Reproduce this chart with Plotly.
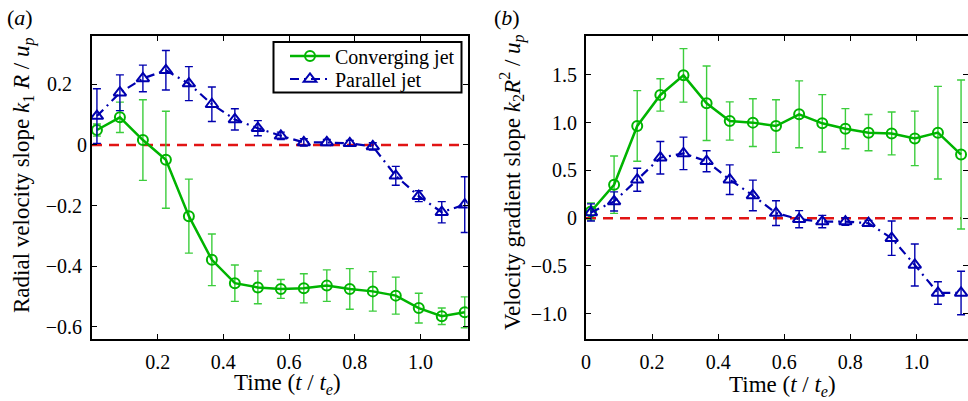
import plotly.graph_objects as go

# ---------------- data ----------------
time = [0.015, 0.085, 0.155, 0.225, 0.295, 0.365, 0.435, 0.505, 0.575,
        0.645, 0.715, 0.785, 0.855, 0.925, 0.995, 1.065, 1.135]

conv_k1 = [0.049, 0.091, 0.016, -0.049, -0.235, -0.379, -0.456, -0.470, -0.475,
           -0.473, -0.464, -0.475, -0.483, -0.497, -0.538, -0.565, -0.552]
conv_k1_err = [0.02, 0.05, 0.133, 0.16, 0.122, 0.085, 0.06, 0.054, 0.031,
               0.048, 0.052, 0.067, 0.065, 0.061, 0.049, 0.027, 0.051]
par_k1 = [0.095, 0.172, 0.219, 0.246, 0.202, 0.134, 0.084, 0.055, 0.030,
          0.008, 0.008, 0.005, -0.005, -0.102, -0.169, -0.222, -0.197]
par_k1_err = [0.09, 0.059, 0.044, 0.065, 0.056, 0.057, 0.035, 0.025, 0.012,
              0.012, 0.01, 0.01, 0.012, 0.031, 0.018, 0.035, 0.092]

conv_k2 = [0.07, 0.35, 0.965, 1.29, 1.495, 1.203, 1.017, 1.0, 0.964,
           1.087, 0.993, 0.937, 0.895, 0.887, 0.835, 0.895, 0.666]
conv_k2_err = [0.09, 0.3, 0.37, 0.17, 0.28, 0.39, 0.2, 0.25, 0.275,
               0.35, 0.3, 0.21, 0.19, 0.225, 0.285, 0.485, 0.78]
par_k2 = [0.06, 0.175, 0.402, 0.633, 0.678, 0.596, 0.403, 0.238, 0.053,
          -0.011, -0.036, -0.036, -0.053, -0.21, -0.49, -0.783, -0.783]
par_k2_err = [0.09, 0.1, 0.12, 0.17, 0.17, 0.11, 0.155, 0.16, 0.13,
              0.09, 0.065, 0.04, 0.03, 0.18, 0.22, 0.118, 0.228]

series_names = ["Converging jet", "Parallel jet"]

xticks_a = [0.2, 0.4, 0.6, 0.8, 1.0]
xticks_a_text = ["0.2", "0.4", "0.6", "0.8", "1.0"]
yticks_a = [-0.6, -0.4, -0.2, 0, 0.2]
yticks_a_text = ["\u22120.6\u2005", "\u22120.4\u2005", "\u22120.2\u2005", "0", "0.2\u2002\u2005"]
xticks_b = [0, 0.2, 0.4, 0.6, 0.8, 1.0]
xticks_b_text = ["0", "0.2", "0.4", "0.6", "0.8", "1.0"]
yticks_b = [-1.0, -0.5, 0, 0.5, 1.0, 1.5]
yticks_b_text = ["\u22121.0\u2002", "\u22120.5\u2002", "0", "0.5", "1.0", "1.5"]

# ---------------- style ----------------
FONT = "Liberation Serif"
GREEN = "rgb(0,180,0)"
GREEN_ERR = "rgb(60,205,60)"
BLUE = "rgb(0,0,175)"
RED = "rgb(225,20,20)"
W, H = 968, 401

def px_x(p):
    return p / W

def px_y(p):
    return 1 - p / H

fig = go.Figure()

def add_pair(xa, ya, conv, conv_err, par, par_err, show):
    fig.add_trace(go.Scatter(
        x=time, y=conv, mode="lines+markers", name=series_names[0],
        xaxis=xa, yaxis=ya, showlegend=show, legend="legend",
        line=dict(color=GREEN, width=2.5),
        marker=dict(symbol="circle-open", size=10, color=GREEN, line=dict(width=2, color=GREEN)),
        error_y=dict(type="data", array=conv_err, color=GREEN_ERR, thickness=1.4, width=4),
    ))
    fig.add_trace(go.Scatter(
        x=time, y=par, mode="lines+markers", name=series_names[1],
        xaxis=xa, yaxis=ya, showlegend=show, legend="legend2",
        line=dict(color=BLUE, width=2.2, dash="9px,5px,2px,5px"),
        marker=dict(symbol="triangle-up-open", size=11, color=BLUE, line=dict(width=2, color=BLUE)),
        error_y=dict(type="data", array=par_err, color=BLUE, thickness=1.4, width=4),
    ))

add_pair("x", "y", conv_k1, conv_k1_err, par_k1, par_k1_err, True)
add_pair("x2", "y2", conv_k2, conv_k2_err, par_k2, par_k2_err, False)

# zero reference lines
for xr, yr in (("x", "y"), ("x2", "y2")):
    fig.add_shape(type="line", xref=xr, yref=yr, x0=0, x1=max(time), y0=0, y1=0,
                  line=dict(color=RED, width=2.5, dash="10px,7px"), layer="below")

# legend frame (box drawn around the two single-entry legends)
fig.add_shape(type="rect", xref="paper", yref="paper",
              x0=px_x(273.5), x1=px_x(461.5), y0=px_y(92.5), y1=px_y(42),
              line=dict(color="black", width=2), fillcolor="white", layer="above")

tickfont = dict(family=FONT, size=20, color="black")
common_axis = dict(showgrid=False, zeroline=False, ticks="inside", ticklen=5, tickwidth=1,
                   tickcolor="black", showline=True, linecolor="black", linewidth=2,
                   tickfont=tickfont, automargin=False)

yd = [px_y(339), px_y(35.7)]
leg_common = dict(xanchor="left", yanchor="middle", bgcolor="rgba(0,0,0,0)", borderwidth=0,
                  font=dict(family=FONT, size=20, color="black"), itemwidth=40)

fig.update_layout(
    width=W, height=H, autosize=False,
    margin=dict(l=0, r=0, t=0, b=0),
    paper_bgcolor="white", plot_bgcolor="white",
    font=dict(family=FONT, size=20, color="black"),
    xaxis=dict(domain=[px_x(92), px_x(467.7)], range=[0, 1.144], anchor="y",
               tickvals=xticks_a, ticktext=xticks_a_text, mirror="ticks",
               ticklabelstandoff=4, **common_axis),
    yaxis=dict(domain=yd, range=[-0.64, 0.36], anchor="x",
               tickvals=yticks_a, ticktext=yticks_a_text, mirror="ticks",
               ticklabelstandoff=-1, **common_axis),
    xaxis2=dict(domain=[px_x(586), 1.0], range=[0, 1.156], anchor="y2",
                tickvals=xticks_b, ticktext=xticks_b_text, mirror="ticks",
                ticklabelstandoff=4, **common_axis),
    yaxis2=dict(domain=yd, range=[-1.265, 1.91], anchor="x2",
                tickvals=yticks_b, ticktext=yticks_b_text, mirror=False,
                ticklabelstandoff=3, **common_axis),
    yaxis3=dict(overlaying="y2", anchor="x2", side="right", range=[-1.265, 1.91],
                tickvals=yticks_b, showticklabels=False, showline=False,
                showgrid=False, zeroline=False, ticks="inside", ticklen=5,
                tickwidth=1, tickcolor="black"),
    legend=dict(x=px_x(285), y=px_y(56), **leg_common),
    legend2=dict(x=px_x(285), y=px_y(79), **leg_common),
    showlegend=True,
)

# dummy trace on yaxis3 so it renders
fig.add_trace(go.Scatter(x=[None], y=[None], xaxis="x2", yaxis="y3", showlegend=False,
                         hoverinfo="skip"))

ann_font = dict(family=FONT, size=23, color="black")
annotations = [
    dict(text="(<i>a</i>)", x=px_x(20), y=px_y(17), font=dict(family=FONT, size=22, color="black")),
    dict(text="(<i>b</i>)", x=px_x(507), y=px_y(17), font=dict(family=FONT, size=22, color="black")),
    dict(text="Time (<i>t</i> / <i>t</i><sub><i>e</i></sub>)", x=px_x(287.5), y=px_y(384), font=ann_font),
    dict(text="Time (<i>t</i> / <i>t</i><sub><i>e</i></sub>)", x=px_x(782.5), y=px_y(386), font=ann_font),
    dict(text="Radial velocity slope <i>k</i><sub>1</sub> <i>R</i> / <i>u</i><sub><i>p</i></sub>",
         x=px_x(23), y=px_y(176), textangle=-90, font=ann_font),
    dict(text="Velocity gradient slope <i>k</i><sub>2</sub><i>R</i><sup>2</sup> / <i>u</i><sub><i>p</i></sub>",
         x=px_x(512), y=px_y(182), textangle=-90, font=ann_font),
]
for a in annotations:
    fig.add_annotation(xref="paper", yref="paper", showarrow=False, xanchor="center",
                       yanchor="middle", **a)

fig.write_html(
    "out.html",
    config={"displayModeBar": False},
    post_script="document.body.style.margin='0';document.body.style.overflow='hidden';",
)
